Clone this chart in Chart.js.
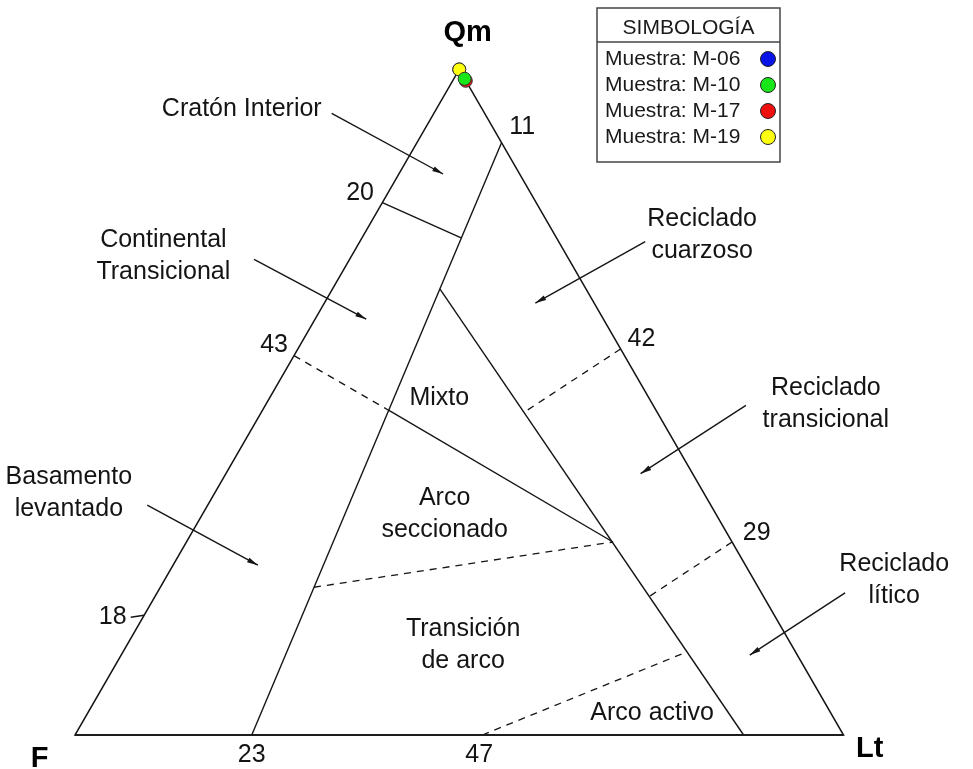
<!DOCTYPE html>
<html>
<head>
<meta charset="utf-8">
<script src="https://cdn.jsdelivr.net/npm/chart.js@4.4.1/dist/chart.umd.min.js"></script>
<style>
  html, body { margin:0; padding:0; background:#fff; }
  #wrap { width:973px; height:769px; position:relative; }
</style>
</head>
<body>
<div id="wrap"><canvas id="chart" width="973" height="769"></canvas></div>
<script>
// --- Données (composition ternaire [Qm, F, Lt] en %) ---
const vertexNames = ['Qm', 'F', 'Lt'];
const triangle = [[100,0,0],[0,100,0],[0,0,100],[100,0,0]];
const baseSide = [[0,100,0],[0,0,100]];

// limites des champs (traits pleins)
const lineCratonLt = [[89,0,11],[0,77,23]];
const lineCraton20 = [[80,20,0],[74.7,12.4,12.9]];
const lineReciclado = [[67,19,14],[0,13,87]];
const lineMixto = [[48.8,34.8,16.4],[29,15.5,55.5]];
const tick18 = [[18,82,0],[17.7,83.9,-1.6]];
// limites en tirets
const dash43 = [[57,43,0],[48.8,34.8,16.4]];
const dash42 = [[58,0,42],[48.5,17.3,34.2]];
const dash29 = [[29,0,71],[20.8,14.9,64.3]];
const dashSeccionado = [[22.2,57.8,20],[29,15.5,55.5]];
const dash47 = [[0,47,53],[12.5,14.1,73.4]];

// muestras
const sampleNames = ['Muestra: M-06','Muestra: M-10','Muestra: M-17','Muestra: M-19'];
const sampleQm = [100, 98.6, 98.3, 100];
const sampleF  = [0, 0, 0, 0];
const sampleLt = [0, 1.4, 1.7, 0];
const sampleColors = ['#0a14e6','#19e619','#f01010','#ffff10'];

// textes (coordonnées du diagramme : base = 100)
const tickTexts = [
  ['11', 58.2, 79.1], ['20', 37.1, 70.5], ['43', 25.9, 50.7], ['18', 4.9, 15.4],
  ['42', 73.7, 51.5], ['29', 88.7, 26.3], ['23', 23.0, -2.6], ['47', 52.6, -2.6]
];
const fieldTexts = [
  [['Cratón Interior'], 21.7, 81.4],
  [['Continental','Transicional'], 11.5, 62.3],
  [['Basamento','levantado'], -0.8, 31.5],
  [['Reciclado','cuarzoso'], 81.6, 65.0],
  [['Reciclado','transicional'], 97.7, 43.1],
  [['Reciclado','lítico'], 106.6, 20.2],
  [['Mixto'], 47.4, 43.8],
  [['Arco','seccionado'], 48.1, 28.7],
  [['Transición','de arco'], 50.5, 11.7],
  [['Arco activo'], 75.1, 2.9]
];
const vertexTexts = [[51.1, 91.4],[-4.6, -3.1],[103.4, -1.8]];
// flèches [départ, pointe]
const arrows = [
  [[33.4,80.9],[47.9,73.0]],
  [[23.3,61.9],[37.9,54.1]],
  [[9.4,29.9],[23.8,22.1]],
  [[74.2,64.2],[59.9,56.2]],
  [[87.3,42.9],[73.6,34.0]],
  [[100.2,18.5],[87.8,10.4]]
];

const H = Math.sqrt(3)/2;
const toXY = t => ({ x: t[2] + t[0]/2, y: t[0]*H });

function seg(pts, opts) {
  return Object.assign({ data: pts.map(toXY), showLine:true, pointRadius:0, borderColor:'#151515', borderWidth:1.4, fill:false, order:10 }, opts||{});
}

const datasets = [
  seg(triangle, { borderWidth:1.5 }),
  seg(baseSide, { borderWidth:2.2, borderColor:'#3a3a3a' }),
  seg(lineCratonLt), seg(lineCraton20), seg(lineReciclado), seg(lineMixto), seg(tick18),
  seg(dash43, { borderDash:[7,6], borderWidth:1.3 }),
  seg(dash42, { borderDash:[7,6], borderWidth:1.3 }),
  seg(dash29, { borderDash:[7,6], borderWidth:1.3 }),
  seg(dashSeccionado, { borderDash:[7,6], borderWidth:1.3 }),
  seg(dash47, { borderDash:[7,6], borderWidth:1.3 })
];
arrows.forEach(a => datasets.push({ data: a.map(p => ({x:p[0], y:p[1]})), showLine:true, pointRadius:0, borderColor:'#151515', borderWidth:1.4, order:10, arrow:true }));
// ordre de dessin : M-06 dessous, puis M-19, M-17, M-10 dessus
const drawOrder = [4, 1, 2, 3];
sampleNames.forEach((n, i) => datasets.push({
  label: n, data: [toXY([sampleQm[i], sampleF[i], sampleLt[i]])],
  pointRadius:6.5, pointBackgroundColor: sampleColors[i], pointBorderColor:'#303030', pointBorderWidth:1,
  showLine:false, order: drawOrder[i]
}));

const FONT = '"Liberation Sans", Arial, sans-serif';

const decor = {
  id:'decor',
  afterDatasetsDraw(chart) {
    const ctx = chart.ctx, sx = chart.scales.x, sy = chart.scales.y;
    ctx.save();
    // pointes de flèches
    chart.data.datasets.forEach((ds, i) => {
      if (!ds.arrow) return;
      const pts = chart.getDatasetMeta(i).data;
      const a = pts[0], b = pts[1];
      const ang = Math.atan2(b.y - a.y, b.x - a.x);
      ctx.fillStyle = '#151515';
      ctx.beginPath();
      ctx.moveTo(b.x, b.y);
      ctx.lineTo(b.x - 11*Math.cos(ang) + 2.6*Math.sin(ang), b.y - 11*Math.sin(ang) - 2.6*Math.cos(ang));
      ctx.lineTo(b.x - 11*Math.cos(ang) - 2.6*Math.sin(ang), b.y - 11*Math.sin(ang) + 2.6*Math.cos(ang));
      ctx.closePath(); ctx.fill();
    });
    ctx.fillStyle = '#141414';
    ctx.textAlign = 'center'; ctx.textBaseline = 'middle';
    ctx.font = '25px ' + FONT;
    tickTexts.forEach(t => ctx.fillText(t[0], sx.getPixelForValue(t[1]), sy.getPixelForValue(t[2])));
    fieldTexts.forEach(t => {
      const cx = sx.getPixelForValue(t[1]), cy = sy.getPixelForValue(t[2]);
      const lh = 32, y0 = cy - (t[0].length - 1)*lh/2;
      t[0].forEach((s, k) => ctx.fillText(s, cx, y0 + k*lh));
    });
    ctx.font = 'bold 29px ' + FONT;
    ctx.fillStyle = '#000';
    vertexTexts.forEach((p, i) => ctx.fillText(vertexNames[i], sx.getPixelForValue(p[0]), sy.getPixelForValue(p[1])));

    // encadré de la symbologie
    const bx = 597, by = 8, bw = 183, bh = 154;
    ctx.fillStyle = '#fff';
    ctx.fillRect(bx, by, bw, bh);
    ctx.strokeStyle = '#444'; ctx.lineWidth = 1.5;
    ctx.strokeRect(bx, by, bw, bh);
    ctx.beginPath(); ctx.moveTo(bx, by + 34); ctx.lineTo(bx + bw, by + 34); ctx.stroke();
    ctx.fillStyle = '#1a1a1a';
    ctx.font = '21px ' + FONT;
    ctx.fillText('SIMBOLOGÍA', bx + bw/2, by + 20);
    ctx.textAlign = 'left';
    sampleNames.forEach((n, i) => {
      const yy = by + 51 + i*26;
      ctx.fillStyle = '#1a1a1a';
      ctx.fillText(n, bx + 8, yy);
      ctx.beginPath(); ctx.arc(bx + 171, yy, 7.5, 0, Math.PI*2);
      ctx.fillStyle = sampleColors[i]; ctx.fill();
      ctx.strokeStyle = '#222'; ctx.lineWidth = 1; ctx.stroke();
    });
    ctx.restore();
  }
};

new Chart(document.getElementById('chart').getContext('2d'), {
  type:'scatter',
  data:{ datasets },
  options:{
    responsive:false, animation:false,
    layout:{ padding:0, autoPadding:false },
    plugins:{ legend:{ display:false }, tooltip:{ enabled:false } },
    scales:{
      x:{ type:'linear', display:false, min:-9.759, max:116.85 },
      y:{ type:'linear', display:false, min:-4.424, max:95.64 }
    }
  },
  plugins:[decor]
});
</script>
</body>
</html>
